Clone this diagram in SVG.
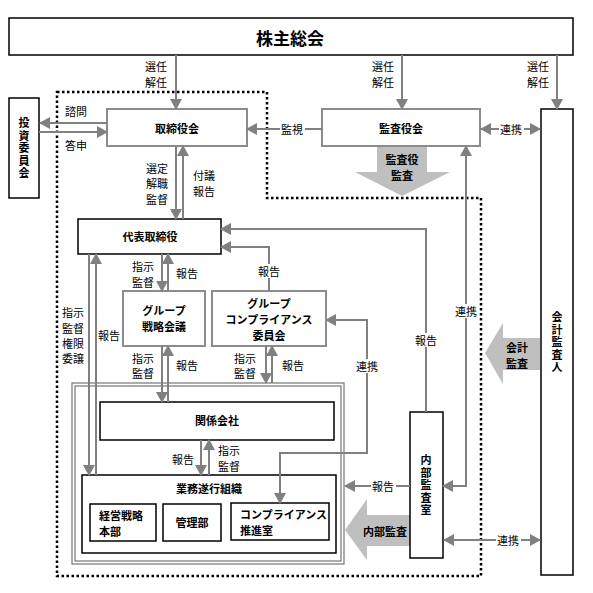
<svg xmlns="http://www.w3.org/2000/svg" width="593" height="593" viewBox="0 0 593 593">
<defs>
<style>
.box{fill:#fff;stroke:#000;stroke-width:1.5}
.gbox{fill:#fff;stroke:#8c8c8c;stroke-width:2}
.ln{fill:none;stroke:#808080;stroke-width:2}
.big{fill:#bfbfbf;stroke:none}
.t{font-family:"Noto Sans CJK JP","Noto Sans CJK SC",sans-serif;font-size:11px;text-anchor:middle;dominant-baseline:central;fill:#000}
.b{font-weight:bold}
.v{writing-mode:vertical-rl;text-orientation:upright;letter-spacing:1.5px}
.bg{fill:#fff}
</style>
<marker id="ah" viewBox="0 0 11 12" refX="10" refY="6" markerWidth="11" markerHeight="12" markerUnits="userSpaceOnUse" orient="auto-start-reverse"><path d="M0,0 L11,6 L0,12 z" fill="#808080"/></marker>
</defs>
<rect width="593" height="593" fill="#fff"/>

<!-- dotted boundary -->
<path d="M57,92 H267 V198 H481 V576 H57 Z" fill="none" stroke="#000" stroke-width="2.5" stroke-dasharray="2.5 2.5"/>

<!-- big gray arrows -->
<g id="big-arrows">
<polygon class="big" points="377,146 427,146 427,172 450,172 402,196 355,172 377,172"/>
<text class="t b" x="402" y="159">監査役</text>
<text class="t b" x="402" y="175">監査</text>
<polygon class="big" points="540,338 503,338 503,323 485,353 503,384 503,370 540,370"/>
<text class="t b" x="517" y="347">会計</text>
<text class="t b" x="517" y="363">監査</text>
<polygon class="big" points="410,515 367,515 367,499 345,530 367,560 367,546 410,546"/>
<text class="t b" x="385" y="531">内部監査</text>
</g>

<!-- outer group box -->
<g id="group-companies-frame">
<rect x="72" y="383" width="272" height="181" fill="#fff" stroke="#808080" stroke-width="1.3"/>
<rect x="75" y="386" width="266" height="175" fill="#fff" stroke="#808080" stroke-width="1.3"/>
</g>

<g id="shareholders">
<rect class="box" x="9" y="18" width="564" height="37"/>
<text class="t b" x="290" y="37" style="font-size:17px">株主総会</text>
</g>
<g id="investment-committee">
<rect class="box" x="9" y="98" width="30" height="100"/>
<text class="t b v" x="24" y="149">投資委員会</text>
</g>
<g id="board">
<rect class="gbox" x="107" y="109" width="140" height="37"/>
<text class="t b" x="177" y="128">取締役会</text>
</g>
<g id="auditors-board">
<rect class="gbox" x="322" y="109" width="158" height="37"/>
<text class="t b" x="401" y="128">監査役会</text>
</g>
<g id="accounting-auditor">
<rect class="box" x="541" y="109" width="32" height="466"/>
<text class="t b v" x="557" y="343">会計監査人</text>
</g>
<g id="representative-director">
<rect class="box" x="78" y="219" width="143" height="35"/>
<text class="t b" x="150" y="236">代表取締役</text>
</g>
<g id="group-strategy">
<rect class="gbox" x="123" y="291" width="82" height="55"/>
<text class="t b" x="164" y="310">グループ</text>
<text class="t b" x="164" y="326">戦略会議</text>
</g>
<g id="group-compliance">
<rect class="gbox" x="212" y="291" width="114" height="55"/>
<text class="t b" x="269" y="303">グループ</text>
<text class="t b" x="269" y="319">コンプライアンス</text>
<text class="t b" x="269" y="335">委員会</text>
</g>
<g id="affiliates">
<rect class="box" x="100" y="402" width="234" height="38"/>
<text class="t b" x="217" y="420">関係会社</text>
</g>
<g id="business-org">
<rect class="box" x="82" y="475" width="254" height="78"/>
<text class="t b" x="209" y="488">業務遂行組織</text>
</g>
<g id="strategy-hq">
<rect class="box" x="90" y="504" width="66" height="37"/>
<text class="t b" x="99" y="515" style="text-anchor:start">経営戦略</text>
<text class="t b" x="99" y="531" style="text-anchor:start">本部</text>
</g>
<g id="admin-dept">
<rect class="box" x="163" y="504" width="58" height="37"/>
<text class="t b" x="192" y="522">管理部</text>
</g>
<g id="compliance-office">
<rect class="box" x="231" y="503" width="98" height="37"/>
<text class="t b" x="240" y="514" style="text-anchor:start">コンプライアンス</text>
<text class="t b" x="240" y="530" style="text-anchor:start">推進室</text>
</g>
<g id="internal-audit">
<rect class="box" x="410" y="412" width="33" height="146"/>
<text class="t b v" x="426" y="486">内部監査室</text>
</g>

<g id="connectors">
<path class="ln" d="M176,55 V109" marker-end="url(#ah)"/>
<path class="ln" d="M402,55 V109" marker-end="url(#ah)"/>
<path class="ln" d="M557,55 V109" marker-end="url(#ah)"/>
<path class="ln" d="M107,123 H40" marker-end="url(#ah)"/>
<path class="ln" d="M39,132 H107" marker-end="url(#ah)"/>
<path class="ln" d="M322,129 H247" marker-end="url(#ah)"/>
<path class="ln" d="M481,129 H540" marker-start="url(#ah)" marker-end="url(#ah)"/>
<path class="ln" d="M176,146 V219" marker-end="url(#ah)"/>
<path class="ln" d="M183,219 V146" marker-end="url(#ah)"/>
<path class="ln" d="M466,146 V486 H443" marker-start="url(#ah)" marker-end="url(#ah)"/>
<path class="ln" d="M426,412 V229 H221" marker-end="url(#ah)"/>
<path class="ln" d="M269,291 V247 H221" marker-end="url(#ah)"/>
<path class="ln" d="M162,254 V291" marker-end="url(#ah)"/>
<path class="ln" d="M168,291 V254" marker-end="url(#ah)"/>
<path class="ln" d="M162,346 V402" marker-end="url(#ah)"/>
<path class="ln" d="M168,402 V346" marker-end="url(#ah)"/>
<path class="ln" d="M266,346 V383" marker-end="url(#ah)"/>
<path class="ln" d="M272,383 V346" marker-end="url(#ah)"/>
<path class="ln" d="M280,503 V453 H367 V320 H326" marker-start="url(#ah)" marker-end="url(#ah)"/>
<path class="ln" d="M89,254 V475" marker-end="url(#ah)"/>
<path class="ln" d="M96,475 V254" marker-end="url(#ah)"/>
<path class="ln" d="M201,440 V475" marker-end="url(#ah)"/>
<path class="ln" d="M209,475 V440" marker-end="url(#ah)"/>
<path class="ln" d="M410,486 H345" marker-end="url(#ah)"/>
<path class="ln" d="M444,540 H540" marker-start="url(#ah)" marker-end="url(#ah)"/>
</g>

<g id="labels">
<text class="t" x="156" y="66">選任</text>
<text class="t" x="156" y="82">解任</text>
<text class="t" x="383" y="66">選任</text>
<text class="t" x="383" y="82">解任</text>
<text class="t" x="538" y="66">選任</text>
<text class="t" x="538" y="82">解任</text>
<text class="t" x="76" y="111">諮問</text>
<text class="t" x="76" y="145">答申</text>
<rect class="bg" x="280" y="122" width="25" height="14"/>
<text class="t" x="292" y="129">監視</text>
<rect class="bg" x="499" y="122" width="25" height="14"/>
<text class="t" x="511" y="129">連携</text>
<text class="t" x="157" y="168">選定</text>
<text class="t" x="157" y="183">解職</text>
<text class="t" x="157" y="199">監督</text>
<text class="t" x="204" y="175">付議</text>
<text class="t" x="204" y="191">報告</text>
<rect class="bg" x="454" y="304" width="25" height="14"/>
<text class="t" x="466" y="311">連携</text>
<rect class="bg" x="414" y="333" width="25" height="14"/>
<text class="t" x="426" y="340">報告</text>
<rect class="bg" x="257" y="264" width="25" height="14"/>
<text class="t" x="269" y="271">報告</text>
<text class="t" x="143" y="266">指示</text>
<text class="t" x="143" y="282">監督</text>
<text class="t" x="187" y="273">報告</text>
<text class="t" x="143" y="358">指示</text>
<text class="t" x="143" y="373">監督</text>
<text class="t" x="187" y="365">報告</text>
<text class="t" x="245" y="358">指示</text>
<text class="t" x="245" y="373">監督</text>
<text class="t" x="293" y="365">報告</text>
<rect class="bg" x="355" y="359" width="25" height="14"/>
<text class="t" x="367" y="366">連携</text>
<text class="t" x="73" y="312">指示</text>
<text class="t" x="73" y="328">監督</text>
<text class="t" x="73" y="343">権限</text>
<text class="t" x="73" y="358">委譲</text>
<text class="t" x="109" y="335">報告</text>
<text class="t" x="183" y="459">報告</text>
<text class="t" x="229" y="450">指示</text>
<text class="t" x="229" y="466">監督</text>
<rect class="bg" x="371" y="479" width="25" height="14"/>
<text class="t" x="383" y="486">報告</text>
<rect class="bg" x="496" y="533" width="25" height="14"/>
<text class="t" x="508" y="540">連携</text>
</g>
</svg>
